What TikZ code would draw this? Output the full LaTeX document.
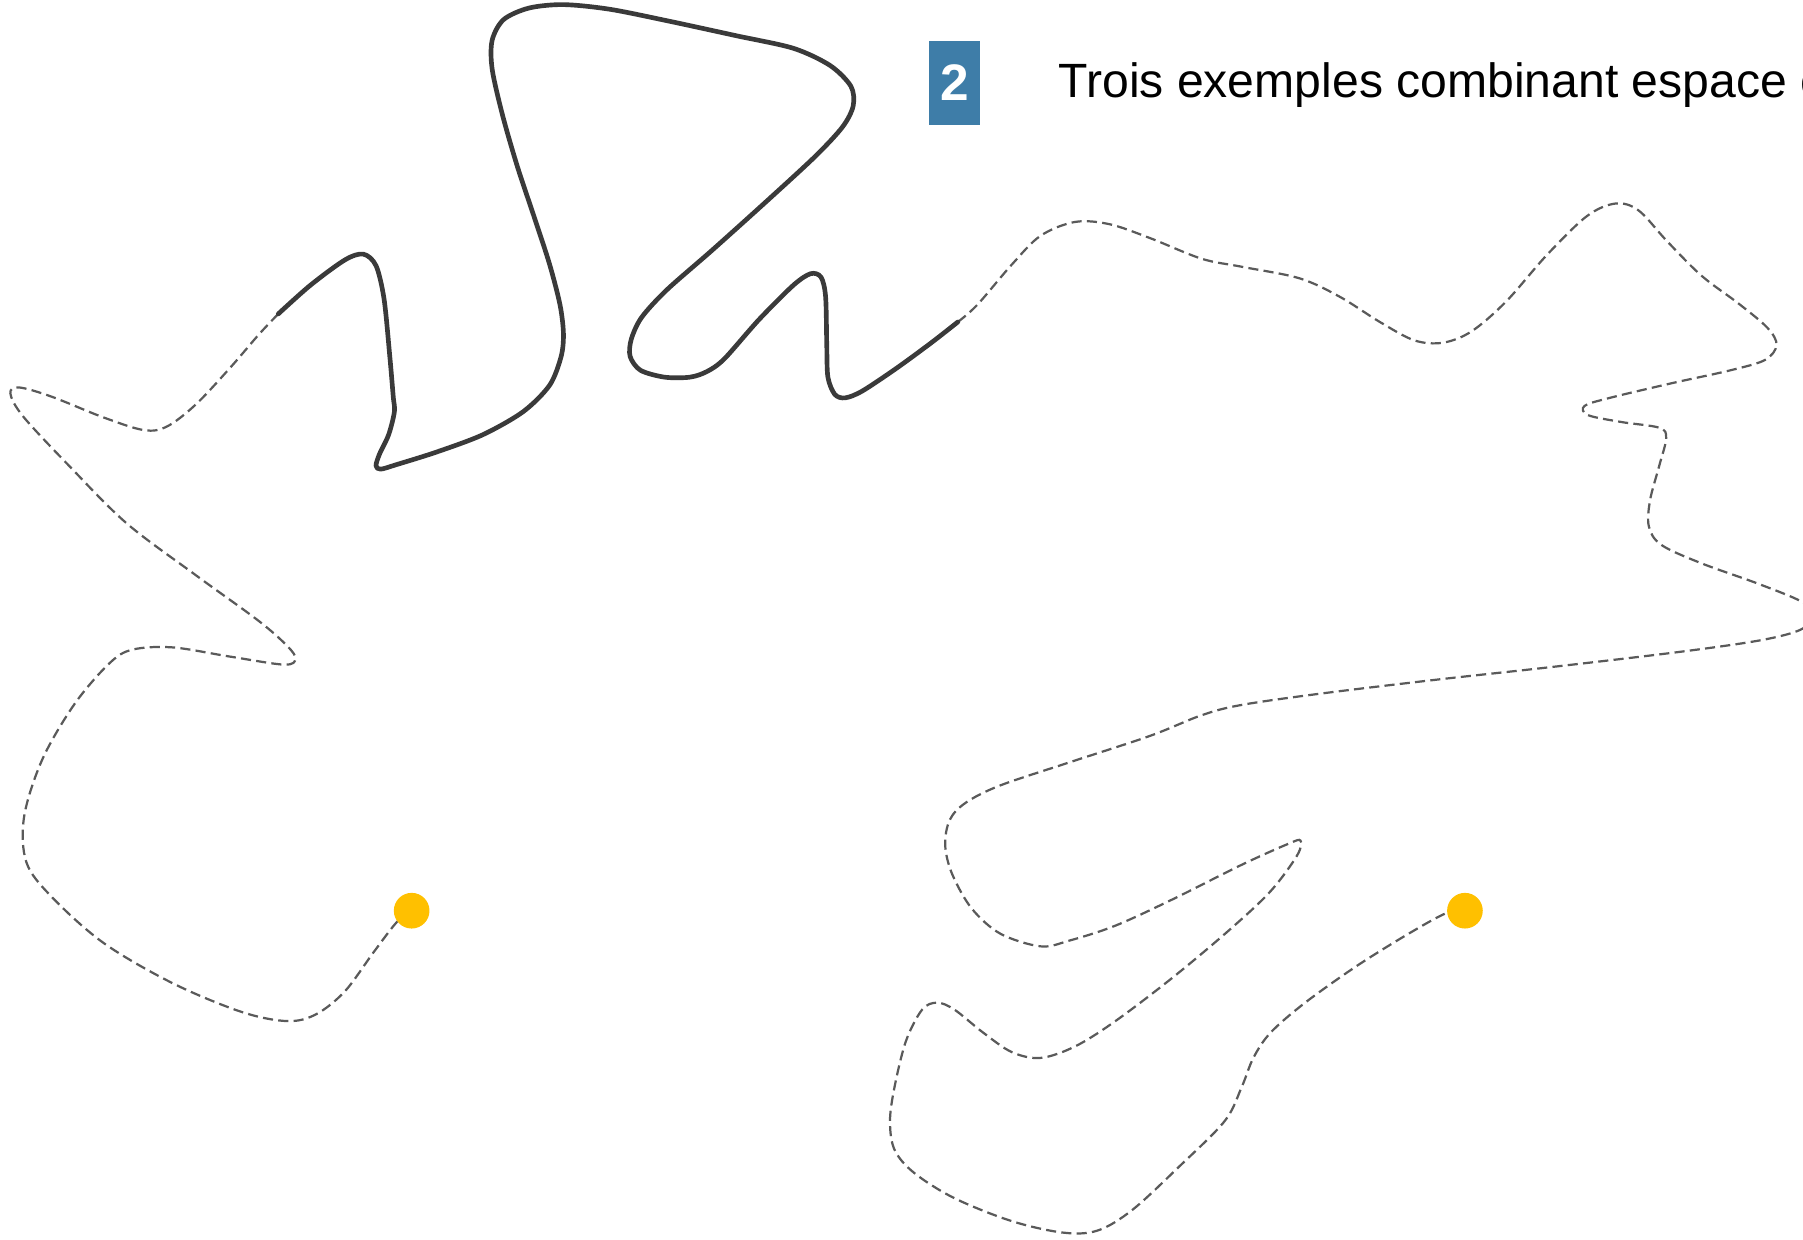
\documentclass[tikz,border=0pt]{standalone}
\usepackage{fontspec}
\setmainfont{Liberation Sans}
\definecolor{ink}{HTML}{3A3A3A}
\definecolor{trailc}{HTML}{5A5A5A}
\definecolor{badgec}{HTML}{3E7DA8}
\definecolor{marker}{HTML}{FFC000}
\begin{document}
\begin{tikzpicture}[x=0.01cm,y=-0.01cm,
  route/.style={draw=ink, line width=1.15pt, line cap=round, line join=round},
  trail/.style={draw=trailc, line width=0.55pt, dash pattern=on 2.5pt off 1.3pt},
  stop/.style={circle, fill=marker, minimum size=0.31cm, inner sep=0pt},
  badge/.style={rectangle, fill=badgec, text=white, inner sep=0pt,
    minimum width=0.44cm, minimum height=0.73cm,
    font=\fontsize{12.7pt}{14pt}\selectfont\bfseries},
  caption/.style={anchor=base west, inner sep=0pt,
    font=\fontsize{11.9pt}{14pt}\selectfont}]
\useasboundingbox (0,0) rectangle (1568,1078);
\clip (0,0) rectangle (1568,1078);

% heading
\node[badge] (num) at (830,72) {2};
\node[caption] (title) at (920,85) {Trois exemples combinant espace et temps};

% junctions between the solid stretch and the dashed trails
\coordinate (J1) at (242,273);
\coordinate (J2) at (833,280);
\coordinate (endA) at (358,792);
\coordinate (endB) at (1274,792);

% left dashed trail
\draw[trail] plot[smooth, tension=0.55] coordinates {
  (J1) (225,291) (200,320) (170,352) (145,371) (125,374) (90,363) (45,345)
  (17,337) (9,342) (20,362) (60,405) (110,455) (170,500) (225,540)
  (250,562) (257,573) (247,578) (200,571) (150,563) (115,565) (95,577)
  (65,612) (37,660) (21,710) (23,750) (45,780) (90,820) (150,855)
  (210,880) (250,888) (275,882) (300,862) (325,828) (345,802) (endA)};

% right dashed trail
\draw[trail] plot[smooth, tension=0.55] coordinates {
  (J2) (850,265) (880,230) (905,205) (935,193) (965,195) (1000,207)
  (1045,225) (1080,232) (1130,242) (1165,258) (1200,280) (1230,296)
  (1255,298) (1280,288) (1310,262) (1345,222) (1380,188) (1405,177)
  (1425,183) (1450,210) (1480,240) (1512,264) (1537,285) (1545,300)
  (1535,313) (1505,322) (1455,333) (1400,346) (1378,353) (1381,361)
  (1410,367) (1443,372) (1449,381) (1443,405) (1435,435) (1434,458)
  (1445,474) (1480,490) (1530,508) (1568,524) (1576,537) (1565,548)
  (1530,557) (1460,567) (1350,580) (1250,591) (1150,603) (1080,613)
  (1045,622) (1000,640) (930,663) (870,683) (840,698) (826,713) (822,735)
  (828,760) (845,790) (870,812) (905,823) (930,818) (970,805) (1020,782)
  (1080,752) (1120,734) (1131,731) (1128,744) (1105,775) (1070,808)
  (1020,850) (970,888) (935,910) (905,920) (880,915) (855,898) (830,878)
  (815,872) (802,878) (788,905) (778,945) (774,975) (778,1000) (795,1020)
  (830,1042) (880,1062) (925,1072) (955,1070) (985,1052) (1025,1015)
  (1065,975) (1080,945) (1090,920) (1105,898) (1135,872) (1180,840)
  (1225,812) (1258,794) (endB)};

% solid stretch
\draw[route] plot[smooth, tension=0.5] coordinates {
  (J1) (270,248) (300,226) (316,221) (327,231) (334,260) (339,310)
  (342,345) (343,358) (338,378) (330,395) (327,405) (331,408) (345,404)
  (380,393) (420,378) (455,358) (478,335) (488,310) (490,290) (487,265)
  (478,230) (465,190) (450,145) (437,100) (428,60) (428,35) (438,17)
  (460,7) (490,4) (530,8) (580,18) (640,31) (690,42) (722,57) (740,75)
  (742,92) (733,110) (710,135) (670,172) (620,217) (580,252) (558,276)
  (549,295) (548,310) (557,322) (578,328) (600,328) (615,323) (630,312)
  (660,278) (690,248) (705,238) (714,241) (718,258) (719,300) (720,328)
  (726,343) (735,346) (750,340) (780,320) (810,298) (J2)};

% end points
\node[stop] (dotA) at (endA) {};
\node[stop] (dotB) at (endB) {};
\end{tikzpicture}
\end{document}
